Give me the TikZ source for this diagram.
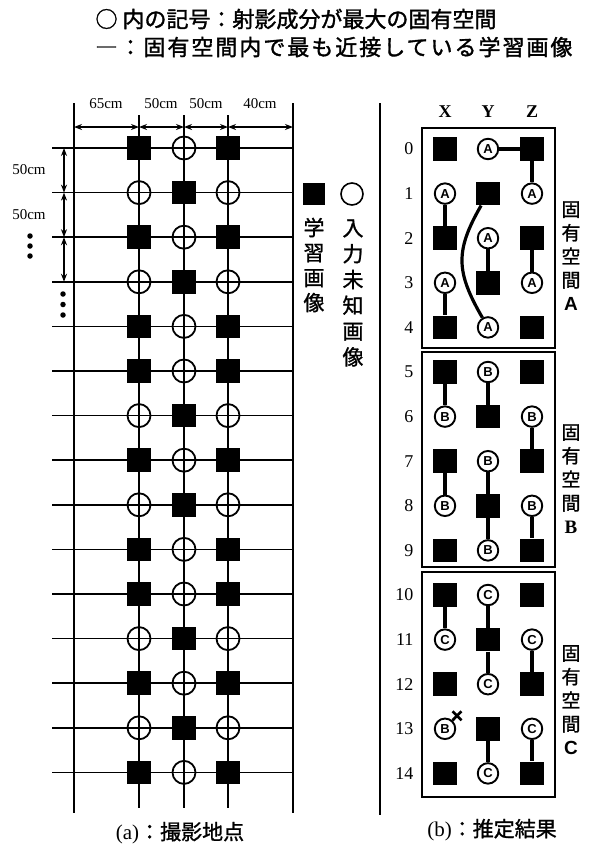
\documentclass[tikz,border=0pt]{standalone}
\usepackage{fontspec}
\setmainfont{Liberation Serif}
\newfontfamily\jp{Noto Sans CJK JP}[FakeBold=1.2]
\newfontfamily\jpw{Noto Sans CJK JP}[LetterSpace=9,FakeBold=1.5]
\newfontfamily\jph{Noto Sans CJK JP}[FakeBold=1.5]
\newfontfamily\lsans{Liberation Sans}
\usetikzlibrary{arrows.meta}
\begin{document}
\begin{tikzpicture}[x=1pt,y=-1pt,
  gridline/.style={line width=1.5pt},
  dimline/.style={line width=1.8pt,{Stealth[length=8pt,width=6pt]}-{Stealth[length=8pt,width=6pt]}},
  sqr/.style={fill=black,draw=none,minimum size=23.5pt,inner sep=0pt},
  lcirc/.style={circle,draw,line width=1.8pt,minimum size=23pt,inner sep=0pt},
  rcirc/.style={circle,draw,fill=white,line width=1.9pt,minimum size=20.5pt,inner sep=0pt,font=\lsans\bfseries\fontsize{13}{13}\selectfont},
  link/.style={line width=3.2pt},
  boxline/.style={line width=1.1pt},
  dimlabel/.style={font=\fontsize{15}{15}\selectfont},
  rowlabel/.style={anchor=east,font=\fontsize{18}{18}\selectfont},
  hdr/.style={font=\bfseries\fontsize{18}{18}\selectfont},
  vtext/.style={align=center,inner sep=0pt},
  dot/.style={circle,fill=black,inner sep=0pt,minimum size=5.5pt}
]
\useasboundingbox (0,0) rectangle (593,847);

% header
\node[anchor=west,font=\jph\fontsize{22}{22}\selectfont] (h1) at (92,19) {○ 内の記号：射影成分が最大の固有空間};
\node[anchor=west,font=\jpw\fontsize{22}{22}\selectfont] (h2) at (92,47) {―：固有空間内で最も近接している学習画像};

% ---------- left panel (a) ----------
\foreach \r in {0,...,14}{
  \pgfmathsetmacro\yy{148+44.6*\r}
  \draw[gridline] (52,\yy) -- (293,\yy);
}
\foreach \xx in {139,184,228}{\draw[gridline] (\xx,115) -- (\xx,808);}
\draw[gridline] (74,103) -- (74,813);
\draw[gridline] (293,103) -- (293,813);

% top dimensions
\coordinate (d0) at (74,127);
\coordinate (d1) at (139,127);
\coordinate (d2) at (184,127);
\coordinate (d3) at (228,127);
\coordinate (d4) at (293,127);
\draw[dimline] (d0) -- (d1);
\draw[dimline] (d1) -- (d2);
\draw[dimline] (d2) -- (d3);
\draw[dimline] (d3) -- (d4);
\node[dimlabel] (t1) at (106,104) {65cm};
\node[dimlabel] (t2) at (161,104) {50cm};
\node[dimlabel] (t3) at (206,104) {50cm};
\node[dimlabel] (t4) at (260,104) {40cm};

% left dimensions
\coordinate (v0) at (64,148);
\coordinate (v1) at (64,192.6);
\coordinate (v2) at (64,237.2);
\coordinate (v3) at (64,281.8);
\draw[dimline,line width=2.4pt] (v0) -- (v1);
\draw[dimline,line width=2.4pt] (v1) -- (v2);
\draw[dimline,line width=2.4pt] (v2) -- (v3);
\node[dimlabel] (s1) at (29,170) {50cm};
\node[dimlabel] (s2) at (29,215) {50cm};
\node[dot] (p1) at (30,236) {};
\node[dot] (p2) at (30,246) {};
\node[dot] (p3) at (30,256) {};
\node[dot] (q1) at (63,294) {};
\node[dot] (q2) at (63,304.5) {};
\node[dot] (q3) at (63,315) {};

% left markers
\foreach \r/\t in {0/1,1/0,2/1,3/0,4/1,5/1,6/0,7/1,8/0,9/1,10/1,11/0,12/1,13/0,14/1}{
  \pgfmathsetmacro\yy{148+44.6*\r}
  \ifnum\t=1
    \node[sqr] (L-\r-X) at (139,\yy) {};
    \node[lcirc] (L-\r-Y) at (184,\yy) {};
    \node[sqr] (L-\r-Z) at (228,\yy) {};
  \else
    \node[lcirc] (L-\r-X) at (139,\yy) {};
    \node[sqr] (L-\r-Y) at (184,\yy) {};
    \node[lcirc] (L-\r-Z) at (228,\yy) {};
  \fi
}

% legend
\node[sqr,minimum size=22pt] (lg1) at (314,194) {};
\node[circle,draw,line width=1.6pt,minimum size=22pt,inner sep=0pt] (lg2) at (352,194) {};
\node[vtext,font=\jp\fontsize{21}{25}\selectfont] (lt1) at (314,265) {学\\習\\画\\像};
\node[vtext,font=\jp\fontsize{21}{25.8}\selectfont] (lt2) at (353,293) {入\\力\\未\\知\\画\\像};

% separator
\draw[gridline] (380,103) -- (380,815);

% ---------- right panel (b) ----------
\node[hdr] (hx) at (445,112) {X};
\node[hdr] (hy) at (488,112) {Y};
\node[hdr] (hz) at (532,112) {Z};

\draw[boxline] (422,128) rectangle (555,348);
\draw[boxline] (422,352) rectangle (555,567);
\draw[boxline] (422,572) rectangle (555,797);

\foreach \r/\t/\c/\cx in {0/1/A/A,1/0/A/A,2/1/A/A,3/0/A/A,4/1/A/A,5/1/B/B,6/0/B/B,7/1/B/B,8/0/B/B,9/1/B/B,10/1/C/C,11/0/C/C,12/1/C/C,13/0/C/B,14/1/C/C}{
  \pgfmathsetmacro\yy{149+44.6*\r}
  \node[rowlabel] (N-\r) at (417,\yy) {\r};
  \ifnum\t=1
    \node[sqr] (R-\r-X) at (445,\yy) {};
    \node[rcirc] (R-\r-Y) at (488,\yy) {\c};
    \node[sqr] (R-\r-Z) at (532,\yy) {};
  \else
    \node[rcirc] (R-\r-X) at (445,\yy) {\cx};
    \node[sqr] (R-\r-Y) at (488,\yy) {};
    \node[rcirc] (R-\r-Z) at (532,\yy) {\c};
  \fi
}

% links, space A
\draw[link] (R-0-Y) -- (R-0-Z);
\draw[link] (R-0-Z) -- (R-1-Z);
\draw[link] (R-1-X) -- (R-2-X);
\draw[link] (R-2-Y) -- (R-3-Y);
\draw[link] (R-2-Z) -- (R-3-Z);
\draw[link] (R-3-X) -- (R-4-X);
\draw[link] (R-1-Y) to[out=-120,in=120,looseness=1.2] (R-4-Y);
% links, space B
\draw[link] (R-5-X) -- (R-6-X);
\draw[link] (R-5-Y) -- (R-6-Y);
\draw[link] (R-6-Z) -- (R-7-Z);
\draw[link] (R-7-X) -- (R-8-X);
\draw[link] (R-7-Y) -- (R-8-Y);
\draw[link] (R-8-Y) -- (R-9-Y);
\draw[link] (R-8-Z) -- (R-9-Z);
% links, space C
\draw[link] (R-10-X) -- (R-11-X);
\draw[link] (R-10-Y) -- (R-11-Y);
\draw[link] (R-11-Y) -- (R-12-Y);
\draw[link] (R-11-Z) -- (R-12-Z);
\draw[link] (R-13-Y) -- (R-14-Y);
\draw[link] (R-13-Z) -- (R-14-Z);

% cross mark
\coordinate (xm) at ([shift={(12,-13)}]R-13-X.center);
\draw[line width=1.6pt] (R-13-X.45) -- (xm);
\draw[line width=2.6pt] ([shift={(-4.5,-4.5)}]xm) -- ([shift={(4.5,4.5)}]xm);
\draw[line width=2.6pt] ([shift={(-4.5,4.5)}]xm) -- ([shift={(4.5,-4.5)}]xm);

% side labels
\node[vtext,font=\jp\fontsize{19}{23.6}\selectfont] (sa) at (571,256) {固\\有\\空\\間\\{\lsans\bfseries A}};
\node[vtext,font=\jp\fontsize{19}{23.6}\selectfont] (sb) at (571,479) {固\\有\\空\\間\\{\rmfamily\bfseries B}};
\node[vtext,font=\jp\fontsize{19}{23.6}\selectfont] (sc) at (571,700) {固\\有\\空\\間\\{\lsans\bfseries C}};

% captions
\node[font=\fontsize{21}{21}\selectfont] (ca) at (180,833) {(a){\jp ：撮影地点}};
\node[font=\fontsize{21}{21}\selectfont] (cb) at (492,830) {(b){\jp ：推定結果}};
\end{tikzpicture}
\end{document}
